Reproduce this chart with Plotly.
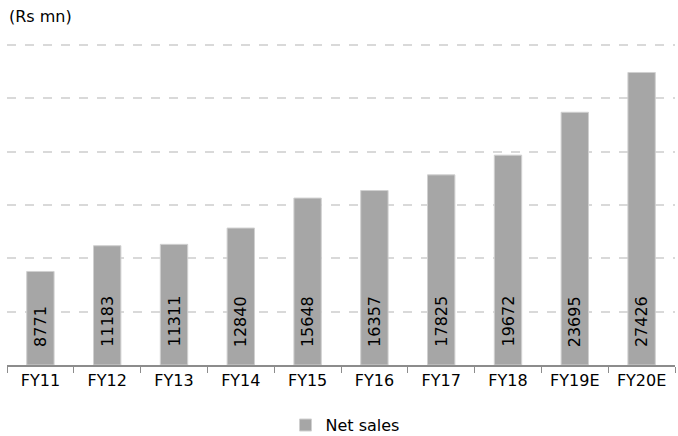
import plotly.graph_objects as go

years = ["FY11", "FY12", "FY13", "FY14", "FY15", "FY16", "FY17", "FY18", "FY19E", "FY20E"]
net_sales = [8771, 11183, 11311, 12840, 15648, 16357, 17825, 19672, 23695, 27426]

FONT = "'DejaVu Sans', sans-serif"

fig = go.Figure()
fig.add_trace(go.Bar(
    x=years,
    y=net_sales,
    name="Net sales",
    marker=dict(color="#a6a6a6", line=dict(color="#d0d0d0", width=1)),
))

# value labels, rotated, sitting near the foot of each bar
for yr, v in zip(years, net_sales):
    fig.add_annotation(
        x=yr, y=0, text=str(v), textangle=-90,
        xanchor="center", yanchor="bottom", yshift=16,
        showarrow=False, font=dict(family=FONT, size=16, color="#000000"),
    )

fig.add_annotation(
    text="(Rs mn)", xref="paper", yref="paper",
    x=0.0, y=1.0, xanchor="left", yanchor="bottom", yshift=12,
    showarrow=False, font=dict(family=FONT, size=16, color="#000000"),
)

fig.update_layout(
    width=678,
    height=436,
    margin=dict(l=7, r=3, t=40, b=71, autoexpand=False),
    paper_bgcolor="white",
    plot_bgcolor="white",
    bargap=0.59,
    font=dict(family=FONT, size=16, color="#000000"),
    showlegend=True,
    legend=dict(
        orientation="h",
        x=0.506, xanchor="center",
        yref="container", y=0.025, yanchor="middle",
        font=dict(size=16),
        itemwidth=30,
    ),
    xaxis=dict(
        showline=True, linecolor="#8c8c8c", linewidth=1.5,
        ticks="outside", tickson="boundaries", ticklen=6, tickcolor="#8c8c8c",
        tickfont=dict(size=16, color="#000000"),
        showgrid=False,
    ),
    yaxis=dict(
        range=[0, 30470], tick0=0, dtick=5000,
        showticklabels=False,
        showgrid=True, gridcolor="#d9d9d9", gridwidth=1.5, griddash="dash",
        zeroline=False, showline=False,
    ),
)

fig.write_html("out.html")
